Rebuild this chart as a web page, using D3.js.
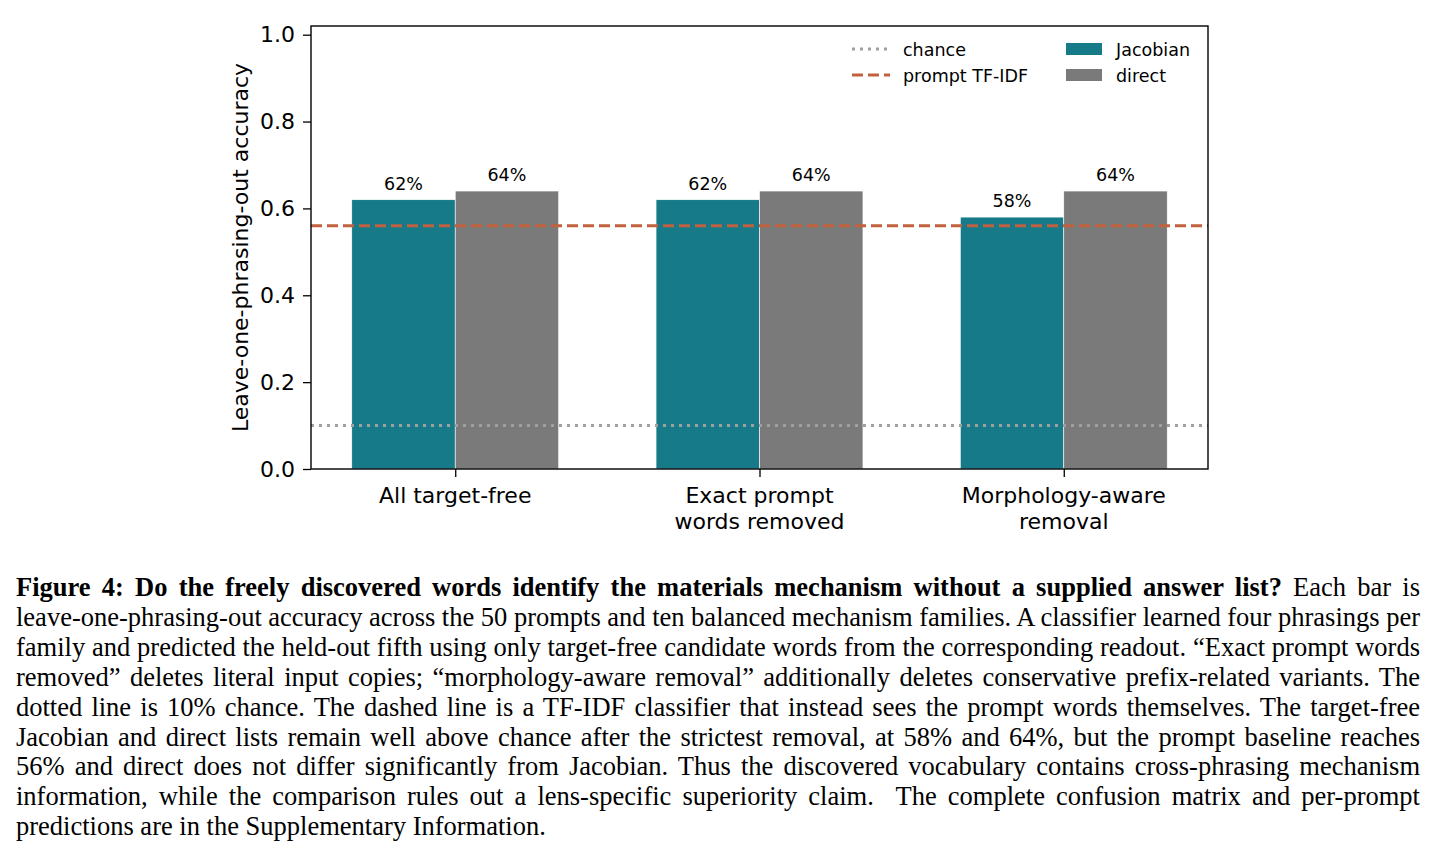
<!DOCTYPE html>
<html>
<head>
<meta charset="utf-8">
<script src="https://cdn.jsdelivr.net/npm/d3@7"></script>
<style>
  body { margin: 0; background: #fff; }
  svg { display: block; }
</style>
</head>
<body>
<svg id="viz" width="1436" height="857"></svg>
<script>
// chart data
const categories = ["All target-free", "Exact prompt\nwords removed", "Morphology-aware\nremoval"]
const jacobian = [0.62, 0.62, 0.58]
const direct = [0.64, 0.64, 0.64]
const chance = 0.10
const tfidf = 0.56
const yTicks = [0, 0.2, 0.4, 0.6, 0.8, 1.0]

const captionBold = "Figure 4: Do the freely discovered words identify the materials mechanism without a supplied answer list?"
const captionLines = [
    " Each bar is",
    "leave-one-phrasing-out accuracy across the 50 prompts and ten balanced mechanism families. A classifier learned four phrasings per",
    "family and predicted the held-out fifth using only target-free candidate words from the corresponding readout. \u201cExact prompt words",
    "removed\u201d deletes literal input copies; \u201cmorphology-aware removal\u201d additionally deletes conservative prefix-related variants. The",
    "dotted line is 10% chance. The dashed line is a TF-IDF classifier that instead sees the prompt words themselves. The target-free",
    "Jacobian and direct lists remain well above chance after the strictest removal, at 58% and 64%, but the prompt baseline reaches",
    "56% and direct does not differ significantly from Jacobian. Thus the discovered vocabulary contains cross-phrasing mechanism",
    "information, while the comparison rules out a lens-specific superiority claim.  The complete confusion matrix and per-prompt",
    "predictions are in the Supplementary Information."
]

const svg = d3.select("#viz"),
    plotLeft = 311, plotRight = 1208, plotTop = 26, plotBottom = 469,
    barWidth = 0.34,
    sans = "DejaVu Sans, sans-serif",
    serif = "Liberation Serif, Times New Roman, serif"

const colors = { jacobian: "#177a89", direct: "#7a7a7a", tfidf: "#c2603f", chance: "#a0a0a0" }

const x = d3.scaleLinear().domain([-0.474, 2.474]).range([plotLeft, plotRight])
const y = d3.scaleLinear().domain([0, 1.02]).range([plotBottom, plotTop])

// bars
const plot = svg.append("g")

plot.selectAll("rect.jac")
    .data(jacobian)
    .enter().append("rect")
    .attr("x", (d, i) => x(i - barWidth))
    .attr("y", d => y(d))
    .attr("width", x(barWidth) - x(0))
    .attr("height", d => y(0) - y(d))
    .attr("fill", colors.jacobian)
    .attr("stroke", "#fff").attr("stroke-width", 0.6)

plot.selectAll("rect.dir")
    .data(direct)
    .enter().append("rect")
    .attr("x", (d, i) => x(i))
    .attr("y", d => y(d))
    .attr("width", x(barWidth) - x(0))
    .attr("height", d => y(0) - y(d))
    .attr("fill", colors.direct)
    .attr("stroke", "#fff").attr("stroke-width", 0.6)

// value labels
const labels = jacobian.map((v, i) => ({ v: v, xc: i - barWidth / 2 }))
    .concat(direct.map((v, i) => ({ v: v, xc: i + barWidth / 2 })))

plot.selectAll("text.val")
    .data(labels)
    .enter().append("text")
    .attr("x", d => x(d.xc))
    .attr("y", d => y(d.v) - 10)
    .attr("text-anchor", "middle")
    .style("font-family", sans).style("font-size", "17.5px")
    .text(d => Math.round(d.v * 100) + "%")

// reference lines
plot.append("line")
    .attr("x1", plotLeft).attr("x2", plotRight)
    .attr("y1", y(chance)).attr("y2", y(chance))
    .attr("stroke", colors.chance).attr("stroke-width", 3)
    .attr("stroke-dasharray", "3,5")

plot.append("line")
    .attr("x1", plotLeft).attr("x2", plotRight)
    .attr("y1", y(tfidf)).attr("y2", y(tfidf))
    .attr("stroke", colors.tfidf).attr("stroke-width", 3)
    .attr("stroke-dasharray", "11,5")

// frame
svg.append("rect")
    .attr("x", plotLeft).attr("y", plotTop)
    .attr("width", plotRight - plotLeft).attr("height", plotBottom - plotTop)
    .attr("fill", "none").attr("stroke", "#000").attr("stroke-width", 1.4)

// y axis
const yAxis = svg.append("g")
    .attr("transform", `translate(${plotLeft},0)`)
    .call(d3.axisLeft(y).tickValues(yTicks).tickFormat(d3.format(".1f")).tickSize(8).tickPadding(8))
yAxis.select(".domain").remove()
yAxis.selectAll("line").attr("stroke-width", 1.3)
yAxis.selectAll("text").style("font-family", sans).style("font-size", "22px").attr("fill", "#000")

// x axis
const xAxis = svg.append("g")
    .attr("transform", `translate(0,${plotBottom})`)
    .call(d3.axisBottom(x).tickValues(d3.range(categories.length)).tickFormat("").tickSize(8))
xAxis.select(".domain").remove()
xAxis.selectAll("line").attr("stroke-width", 1.3)

categories.forEach((c, i) => {
    const t = svg.append("text")
        .attr("x", x(i)).attr("y", plotBottom + 34)
        .attr("text-anchor", "middle")
        .style("font-family", sans).style("font-size", "22px")
    c.split("\n").forEach((line, j) => {
        t.append("tspan").attr("x", x(i)).attr("dy", j == 0 ? 0 : 26).text(line)
    })
})

// y label
svg.append("text")
    .attr("transform", `translate(248,${(plotTop + plotBottom) / 2}) rotate(-90)`)
    .attr("text-anchor", "middle")
    .style("font-family", sans).style("font-size", "22px")
    .text("Leave-one-phrasing-out accuracy")

// legend
const legend = svg.append("g").style("font-family", sans).style("font-size", "17.5px")
const lineItems = [
    { label: "chance", color: colors.chance, dash: "3,5", y: 49 },
    { label: "prompt TF-IDF", color: colors.tfidf, dash: "11,5", y: 75 }
]
lineItems.forEach(d => {
    legend.append("line")
        .attr("x1", 852).attr("x2", 890).attr("y1", d.y).attr("y2", d.y)
        .attr("stroke", d.color).attr("stroke-width", 3).attr("stroke-dasharray", d.dash)
    legend.append("text").attr("x", 903).attr("y", d.y + 6.5).text(d.label)
})
const patchItems = [
    { label: "Jacobian", color: colors.jacobian, y: 49 },
    { label: "direct", color: colors.direct, y: 75 }
]
patchItems.forEach(d => {
    legend.append("rect")
        .attr("x", 1066).attr("y", d.y - 6).attr("width", 36).attr("height", 12)
        .attr("fill", d.color)
    legend.append("text").attr("x", 1116).attr("y", d.y + 6.5).text(d.label)
})

// caption, justified line by line
const capLeft = 16, capWidth = 1404
const caption = svg.append("g").style("font-family", serif).style("font-size", "26.5px").attr("fill", "#000")
captionLines.forEach((line, i) => {
    const t = caption.append("text")
        .attr("x", capLeft).attr("y", 596 + i * 29.9)
        .attr("xml:space", "preserve")
    if (i == 0) {
        t.append("tspan").style("font-weight", "bold").text(captionBold)
    }
    t.append("tspan").text(line)
    if (i < captionLines.length - 1) {
        const len = t.node().getComputedTextLength()
        const spaces = (t.text().match(/ /g) || []).length
        if (spaces > 0) t.attr("word-spacing", (capWidth - len) / spaces)
    }
})
</script>
</body>
</html>
